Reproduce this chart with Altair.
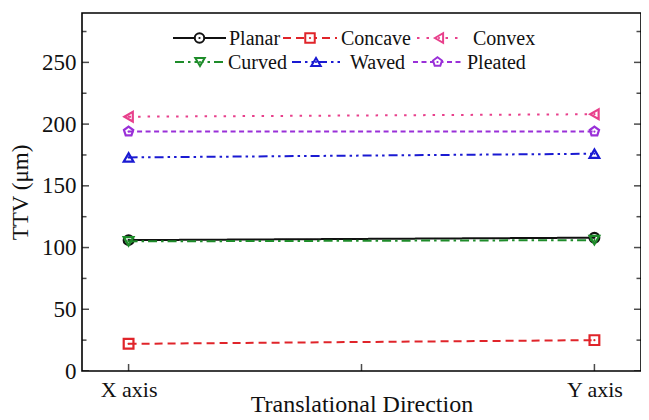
import altair as alt
import pandas as pd

# ---- data ----
series = ["Planar", "Concave", "Convex", "Curved", "Waved", "Pleated"]
directions = ["X axis", "Y axis"]
ttv_x_axis = [106, 22, 206, 105, 173, 194]
ttv_y_axis = [108, 25, 208, 106, 176, 194]
y_tick_values = [0, 25, 50, 75, 100, 125, 150, 175, 200, 225, 250, 275]
y_label_values = [0, 50, 100, 150, 200, 250]
x_tick_values = [0, 0.5, 1]

# ---- styles ----
colors = ["#111111", "#e0242a", "#e8408c", "#1e8c2a", "#1a1ad2", "#9a30d8"]
dashes = [[1, 0], [8, 5], [2.5, 7], [9, 4, 2.5, 4], [9, 4, 2.5, 4, 2.5, 4], [5, 3.5]]
PENT = "M0,-1L0.951,-0.309L0.588,0.809L-0.588,0.809L-0.951,-0.309Z"
shapes = ["circle", "square", "triangle-left", "triangle-down", "triangle-up", PENT]
FONT = "Liberation Serif"

W, H = 559, 358
XD = [-0.1, 1.1]
YD = [0, 290]

xscale = alt.Scale(domain=XD, nice=False, zero=False)
yscale = alt.Scale(domain=YD, nice=False, zero=False)
label_expr = f"datum.value < 0.5 ? '{directions[0]}' : '{directions[1]}'"
xaxis = alt.Axis(values=[0, 1], labelExpr=label_expr, ticks=False, domain=False, grid=False,
                 labelPadding=8, title="Translational Direction", titlePadding=-8,
                 labelFontSize=22, titleFontSize=24, labelFont=FONT, titleFont=FONT,
                 labelColor="#111", titleColor="#111", titleFontWeight="normal")
yaxis = alt.Axis(values=y_label_values, ticks=False, domain=False, grid=False,
                 labelPadding=6, title="TTV (μm)", titlePadding=9,
                 labelFontSize=23, titleFontSize=23, labelFont=FONT, titleFont=FONT,
                 labelColor="#111", titleColor="#111", titleFontWeight="normal")


def X(f):
    return alt.X(f, type="quantitative", scale=xscale, axis=xaxis)


def Y(f):
    return alt.Y(f, type="quantitative", scale=yscale, axis=yaxis)


def px_to_x(px):
    return XD[0] + px / W * (XD[1] - XD[0])


def px_to_y(py):
    return YD[1] - py / H * (YD[1] - YD[0])


layers = []

# ---- inward ticks (clipped to the frame) ----
tick_rows = []
for v in y_tick_values:
    for side in XD:
        tick_rows.append({"x": side, "y": v, "major": v % 50 == 0})
tdf = pd.DataFrame(tick_rows)
for major, size in [(True, 14), (False, 9)]:
    layers.append(
        alt.Chart(tdf[tdf.major == major]).mark_tick(
            clip=True, orient="horizontal", color="black", thickness=1.5, size=size
        ).encode(x=X("x"), y=Y("y"))
    )
bdf = pd.DataFrame({"x": x_tick_values, "y": [YD[0]] * len(x_tick_values)})
layers.append(
    alt.Chart(bdf).mark_tick(clip=True, orient="vertical", color="black", thickness=1.5, size=14)
    .encode(x=X("x"), y=Y("y"))
)

# ---- legend layout (pixel offsets inside the plot) ----
col_start_px = [[91, 201, 335], [93, 210, 331]]
row_px = [25, 49]
line_len_px = [[53, 54, 44], [50, 48, 49]]
text_gap_px = [[3, 4, 12], [3, 10, 5]]

for i, name in enumerate(series):
    col, row = i % 3, i // 3
    df = pd.DataFrame({"x": [0, 1], "y": [ttv_x_axis[i], ttv_y_axis[i]]})
    c, d, s = colors[i], dashes[i], shapes[i]
    layers.append(alt.Chart(df).mark_line(color=c, strokeDash=d, strokeWidth=2)
                  .encode(x=X("x"), y=Y("y")))
    layers.append(alt.Chart(df).mark_point(shape=s, filled=False, color=c, size=95, strokeWidth=2.2, opacity=1)
                  .encode(x=X("x"), y=Y("y")))
    layers.append(alt.Chart(df).mark_point(shape="circle", filled=True, color=c, size=5, opacity=1)
                  .encode(x=X("x"), y=Y("y")))

    x0 = col_start_px[row][col]
    ll = line_len_px[row][col]
    ldf = pd.DataFrame({
        "x0": [px_to_x(x0)],
        "x1": [px_to_x(x0 + ll)],
        "xm": [px_to_x(x0 + ll / 2)],
        "xt": [px_to_x(x0 + ll + text_gap_px[row][col])],
        "y": [px_to_y(row_px[row])],
        "label": [name],
    })
    layers.append(alt.Chart(ldf).mark_rule(color=c, strokeDash=d, strokeWidth=2)
                  .encode(x=X("x0"), x2="x1", y=Y("y")))
    layers.append(alt.Chart(ldf).mark_point(shape=s, filled=True, fill="white", stroke=c, size=90,
                                            strokeWidth=2, opacity=1)
                  .encode(x=X("xm"), y=Y("y")))
    layers.append(alt.Chart(ldf).mark_point(shape="circle", filled=True, color=c, size=5, opacity=1)
                  .encode(x=X("xm"), y=Y("y")))
    layers.append(alt.Chart(ldf).mark_text(font=FONT, fontSize=20, align="left", baseline="middle",
                                           color="#111", dy=1)
                  .encode(x=X("xt"), y=Y("y"), text="label:N"))

chart = alt.layer(*layers).properties(
    width=W, height=H,
    autosize=alt.AutoSizeParams(type="none"),
    padding={"left": 74, "top": 5, "right": 0, "bottom": 46},
).configure(background="white").configure_view(stroke="black", strokeWidth=1.6)

chart.save("out.html", embed_options={"renderer": "svg", "actions": False})
